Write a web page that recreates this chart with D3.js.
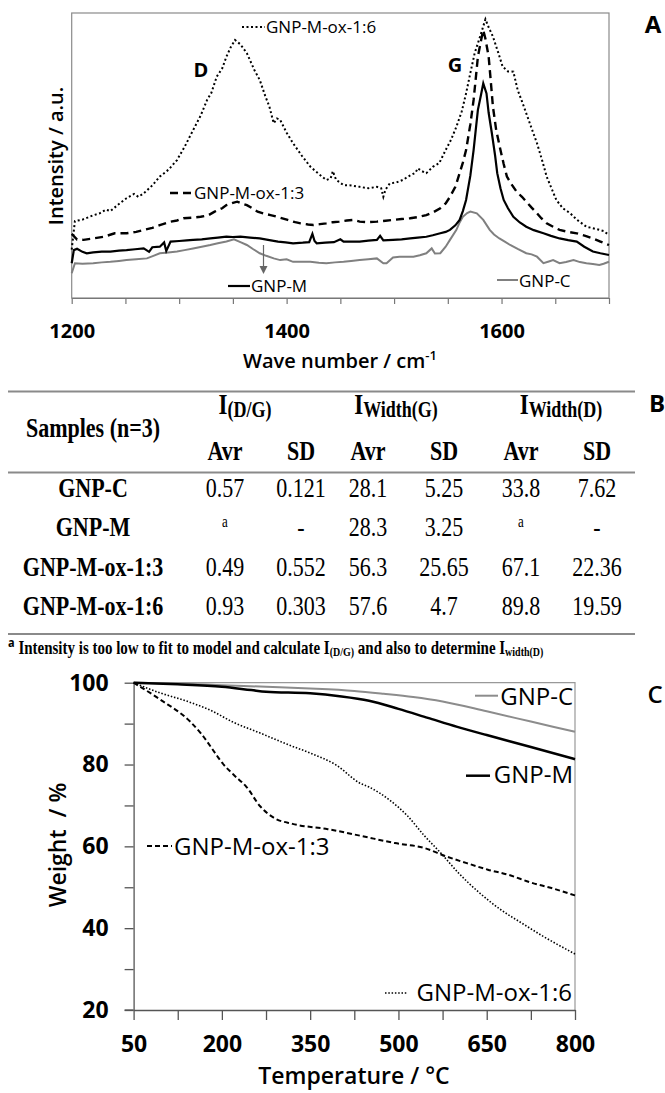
<!DOCTYPE html>
<html>
<head>
<meta charset="utf-8">
<script src="https://cdn.jsdelivr.net/npm/d3@7"></script>
<style>
  body { margin: 0; background: #fff; }
  svg text { font-family: "Open Sans", sans-serif; fill: #000; }
  svg text.serif { font-family: "Liberation Serif", "Times New Roman", serif; }
</style>
</head>
<body>
<div id="container"></div>
<script>
// ---- Panel A : Raman spectra, [wave number, intensity a.u.] ----
var ramanOx16 = [[1200,17],[1203,27],[1210,27.5],[1220,29],[1226,29.7],[1232,31],[1236,30.5],[1244,33],[1251,35],
  [1258,36.5],[1262,35.5],[1267,36.7],[1275,39.5],[1282,42.6],[1290,45],[1298,48.4],[1305,53],[1313,58.9],[1320,64],
  [1326,69.5],[1330,72],[1335,77.7],[1340,80.5],[1344,84.7],[1348,88],[1352,90.5],[1357,89],[1363,85.9],[1370,80],
  [1375,76.5],[1380,71],[1384,67.1],[1388,61.3],[1391,63],[1394,62.5],[1400,58],[1406,54.3],[1414,50],[1422,46.1],
  [1430,43.5],[1437,41.4],[1441,42],[1443,44.5],[1446,41.5],[1453,39.6],[1460,39.5],[1468,39],[1476,38.5],[1484,39],
  [1488,38.5],[1490,35.5],[1492,38],[1496,40.2],[1502,40.5],[1508,41.4],[1515,43],[1520,44],[1522,45.5],[1526,44.5],
  [1530,43.8],[1536,46],[1542,47.3],[1548,51.9],[1553,55.5],[1558,60.1],[1563,65.5],[1567,71.8],[1571,79],[1575,85.9],
  [1580,91.7],[1585,97.8],[1588,95],[1592,91.7],[1597,86],[1601,81.2],[1606,79.5],[1611,79.4],[1615,73],[1619,69],
  [1623,64.8],[1628,59.5],[1633,54.3],[1638,48],[1642,42.6],[1647,38],[1651,34.4],[1657,31.5],[1664,29.7],[1670,27.5],
  [1679,25],[1685,24.5],[1691,23.9],[1695,23.5],[1700,22.1]];
var ramanOx13 = [[1200,22.5],[1205,20.5],[1211,20.4],[1220,20.9],[1230,21.5],[1240,22.7],[1251,22.7],[1260,23.2],
  [1267,23.9],[1275,24.6],[1282,25.6],[1292,26.8],[1298,27.2],[1304,28],[1312,28.2],[1320,28.5],[1327,29],[1333,30.3],
  [1340,31.5],[1344,32.6],[1350,33.4],[1354,33.8],[1358,33.2],[1363,32.6],[1368,31.5],[1373,30.3],[1380,29.5],
  [1385,29.1],[1393,28.3],[1401,27.4],[1408,26.6],[1413,26.2],[1420,25.8],[1425,25.6],[1431,25.9],[1437,26.2],
  [1443,26.6],[1449,26.8],[1456,27.2],[1462,27.4],[1468,26.8],[1476,26.6],[1484,26.8],[1492,27.1],[1499,27.4],
  [1507,27.7],[1515,28],[1522,28.4],[1530,29.1],[1537,30.2],[1543,31.5],[1548,33.2],[1552,35.5],[1557,39],[1561,43.8],
  [1564,47.5],[1567,51.9],[1571,61],[1574,69.5],[1576,77],[1578,84.7],[1581,90.5],[1583,94],[1585,91],[1588,84.7],
  [1590,76],[1592,67.1],[1595,59],[1599,51.9],[1602,47],[1605,42.6],[1610,39.5],[1614,37.3],[1619,35.5],[1623,33.8],
  [1628,31.7],[1633,29.7],[1637,28],[1642,26.2],[1648,25],[1654,23.9],[1662,23.2],[1670,22.7],[1678,21.8],[1685,20.9],
  [1692,19.8],[1700,18.6]];
var ramanM = [[1200,12.2],[1202,16.8],[1205,17.3],[1210,16.2],[1214,15.7],[1220,16],[1228,16.3],[1236,16.3],[1244,16.6],
  [1251,16.8],[1259,17.1],[1267,17.4],[1272,16.2],[1275,17.8],[1282,18],[1286,19.5],[1288,16.5],[1292,19.8],[1300,20],
  [1307,20.2],[1313,20.4],[1321,20.6],[1329,20.9],[1336,21.2],[1344,21.5],[1350,21.4],[1357,21.5],[1366,21.2],
  [1375,20.9],[1384,20.3],[1392,19.8],[1399,19.5],[1406,19.2],[1415,19.4],[1421,19.6],[1424,22.5],[1426,20],[1428,19.2],
  [1436,19.4],[1444,19.6],[1450,20.6],[1453,19.8],[1460,19.8],[1468,19.8],[1476,20.1],[1484,20.4],[1487,21.8],
  [1490,20.2],[1499,20.4],[1507,20.6],[1515,20.9],[1522,21.2],[1530,21.5],[1536,22],[1543,22.7],[1548,23.2],
  [1552,23.9],[1557,25.5],[1561,27.4],[1564,30.5],[1567,34.4],[1571,43],[1574,51.9],[1576,59],[1578,66],[1581,71.5],
  [1583,75.3],[1586,71.8],[1588,65],[1591,57.8],[1594,50],[1596,43.8],[1599,38.5],[1602,34.4],[1606,31.5],[1611,28.5],
  [1617,26.5],[1623,25],[1630,23.8],[1639,22.7],[1646,21.8],[1654,20.9],[1662,20.3],[1670,19.8],[1677,18],[1685,16.3],
  [1692,15.7],[1700,15.1]];
var ramanC = [[1200,8.7],[1203,12.2],[1210,12],[1220,12.2],[1228,12.5],[1236,12.7],[1244,13],[1251,13.3],[1260,13.6],
  [1270,13.9],[1276,14.8],[1282,15.7],[1290,16],[1298,16.3],[1305,16.8],[1313,17.4],[1321,18],[1329,18.6],[1336,19.2],
  [1344,19.8],[1351,20.6],[1357,19.6],[1363,18.6],[1369,17.1],[1375,15.7],[1381,14.8],[1388,13.9],[1394,13.3],
  [1400,13.6],[1406,12.7],[1414,12.7],[1422,12.7],[1430,12.4],[1437,12.2],[1445,12.5],[1453,12.7],[1460,13],[1468,13.3],
  [1476,13.6],[1484,13.9],[1490,12.2],[1493,12.2],[1499,14.2],[1505,14.5],[1511,14.5],[1518,14.5],[1524,15],[1530,15.7],
  [1535,17.4],[1538,15.6],[1543,15.7],[1548,18],[1552,20.4],[1558,23.9],[1561,26.5],[1564,28.5],[1568,29.8],[1571,30.3],
  [1577,29.7],[1583,27.4],[1589,23.9],[1593,22.3],[1598,20.9],[1603,19.8],[1608,18.6],[1615,17.2],[1623,15.7],
  [1628,15.3],[1633,14.5],[1639,12.2],[1644,12.8],[1648,13.3],[1654,12.2],[1660,12.6],[1667,13.3],[1673,12.6],
  [1679,12.2],[1685,11.9],[1691,11.6],[1695,12],[1700,12.7]];
var ramanTicks = [1200,1250,1300,1350,1400,1450,1500,1550,1600,1650,1700];
var ramanLabels = [1200,1400,1600];

// ---- Panel B : table ----
var tableSamples = ["GNP-C","GNP-M","GNP-M-ox-1:3","GNP-M-ox-1:6"];
var idgAvr = ["0.57","a","0.49","0.93"];
var idgSd = ["0.121","-","0.552","0.303"];
var wgAvr = ["28.1","28.3","56.3","57.6"];
var wgSd = ["5.25","3.25","25.65","4.7"];
var wdAvr = ["33.8","a","67.1","89.8"];
var wdSd = ["7.62","-","22.36","19.59"];

// ---- Panel C : TGA, [temperature, weight %] ----
var tgaC = [[50,100],[125,99.8],[200,99.4],[275,99],[350,98.6],[425,98],[475,97.3],[525,96.5],[575,95.4],[650,93],
  [725,90.5],[800,88]];
var tgaM = [[50,100],[125,99.6],[200,99],[250,98.2],[275,97.8],[350,97.4],[400,96.7],[450,95.6],[500,93.6],[550,91.4],
  [600,89.2],[650,87.2],[725,84.3],[800,81.3]];
var tgaOx13 = [[50,100],[95,95.9],[146,90.5],[165,87.5],[190,82.5],[200,80.5],[220,77.5],[242,74.5],[265,69.8],
  [288,67],[320,65.5],[380,64.2],[435,62.6],[494,60.8],[544,59.6],[580,57.6],[616,55.9],[652,54.3],[688,53],[724,51.2],
  [760,49.8],[800,48]];
var tgaOx16 = [[50,100],[95,97.5],[140,95.5],[180,93.3],[220,90.3],[265,87.7],[310,85],[350,82.8],[395,79.8],
  [434,75.5],[450,74.5],[486,71.2],[515,67.5],[544,62.6],[573,58.2],[602,53.5],[638,48.6],[674,44.5],[710,41.2],
  [746,38],[800,33.7]];
var tgaXTicks = [50,125,200,275,350,425,500,575,650,725,800];
var tgaXLabels = [50,200,350,500,650,800];
var tgaYTicks = [20,30,40,50,60,70,80,90,100];
var tgaYLabels = [20,40,60,80,100];

var svg = d3.select("#container").append("svg")
  .attr("width", 665)
  .attr("height", 1093);

// small helper for plain labels
var label = function(x, y, str, size, weight, anchor) {
  return svg.append("text")
    .attr("x", x).attr("y", y)
    .attr("text-anchor", anchor || "start")
    .style("font-size", size + "px")
    .style("font-weight", weight || 400)
    .text(str);
};
var leader = function(x1, x2, y, color, width, dash) {
  svg.append("line")
    .attr("x1", x1).attr("x2", x2).attr("y1", y).attr("y2", y)
    .attr("stroke", color).attr("stroke-width", width)
    .attr("stroke-dasharray", dash || null);
};

/*
/ Panel A
*/
var xA = d3.scaleLinear().domain([1200, 1700]).range([71.7, 609]);
var yA = d3.scaleLinear().domain([0, 100]).range([298, 13]);

svg.append("rect")
  .attr("x", xA(1200)).attr("y", yA(100))
  .attr("width", xA(1700) - xA(1200)).attr("height", yA(0) - yA(100))
  .attr("fill", "none").attr("stroke", "#8a8a8a").attr("stroke-width", 1.2);

var axA = svg.append("g")
  .attr("transform", "translate(0," + yA(0) + ")")
  .call(d3.axisBottom(xA).tickValues(ramanTicks).tickSize(6).tickSizeOuter(0).tickPadding(20)
    .tickFormat(function(d) { return ramanLabels.indexOf(d) >= 0 ? d : ""; }));
axA.attr("font-family", null);
axA.selectAll("path, line").attr("stroke", "#777").attr("stroke-width", 1.2);
axA.selectAll("text").style("font-size", "20px").style("font-weight", 700);

var lineA = d3.line()
  .x(function(d) { return xA(d[0]); })
  .y(function(d) { return yA(d[1]); });

var ramanSeries = [
  { data: ramanC, color: "#808080", w: 2, dash: null },
  { data: ramanM, color: "#000", w: 2.2, dash: null },
  { data: ramanOx13, color: "#000", w: 2.4, dash: "8,5" },
  { data: ramanOx16, color: "#000", w: 2, dash: "2,2.5" }
];
ramanSeries.forEach(function(s) {
  svg.append("path").datum(s.data)
    .attr("d", lineA)
    .attr("fill", "none")
    .attr("stroke", s.color)
    .attr("stroke-width", s.w)
    .attr("stroke-dasharray", s.dash);
});

// annotations
leader(242, 265, 27, "#000", 2, "2,2.5");
label(266, 33, "GNP-M-ox-1:6", 17);
label(201, 77, "D", 20, 700, "middle");
label(455, 72, "G", 20, 700, "middle");
leader(170, 192, 193, "#000", 2.4, "8,5");
label(194, 199, "GNP-M-ox-1:3", 17);
leader(228, 250, 286, "#000", 2.2);
label(251, 292, "GNP-M", 17);
leader(497, 518, 280, "#808080", 2);
label(519, 287, "GNP-C", 17);
svg.append("line")
  .attr("x1", 263.5).attr("x2", 263.5).attr("y1", 245).attr("y2", 268)
  .attr("stroke", "#666").attr("stroke-width", 1.2);
svg.append("path")
  .attr("d", "M259.5,266 L267.5,266 L263.5,274 Z")
  .attr("fill", "#666");

var tA = label(340, 368, "Wave number / cm", 20, 600, "middle");
tA.append("tspan").attr("dy", -8).style("font-size", "13px").text("-1");
svg.append("text")
  .attr("transform", "translate(63,156) rotate(-90)")
  .attr("text-anchor", "middle")
  .style("font-size", "20px").style("font-weight", 600)
  .text("Intensity / a.u.");
label(653, 33, "A", 24, 700, "middle");

/*
/ Panel B : table (serif, slightly tall letters like the source)
*/
var ky = 1.28;
var tText = function(x, y, size, weight, str) {
  return svg.append("text").attr("class", "serif")
    .attr("transform", "translate(" + x + "," + y + ") scale(1," + ky + ")")
    .attr("text-anchor", "middle")
    .style("font-size", size + "px")
    .style("font-weight", weight)
    .text(str);
};
var rule = function(y) {
  svg.append("line").attr("x1", 8).attr("x2", 635).attr("y1", y).attr("y2", y)
    .attr("stroke", "#8a8a8a").attr("stroke-width", 2);
};
rule(391.5);
rule(472.5);
rule(634);

tText(93, 437, 22, 700, "Samples (n=3)");
var groups = [[245, "(D/G)"], [396, "Width(G)"], [561, "Width(D)"]];
groups.forEach(function(g) {
  var t = tText(g[0], 414, 23, 700, "I");
  t.append("tspan").attr("dy", 2).style("font-size", "18px").text(g[1]);
});
var cols = [225, 301, 368, 444, 521, 597];
cols.forEach(function(x, i) {
  tText(x, 460, 22, 700, i % 2 === 0 ? "Avr" : "SD");
});

var rowY = [497, 536, 576, 615];
var tableCols = [idgAvr, idgSd, wgAvr, wgSd, wdAvr, wdSd];
tableSamples.forEach(function(name, r) {
  tText(93, rowY[r], 22, 700, name);
  tableCols.forEach(function(col, c) {
    var v = col[r];
    if (v === "a") {
      tText(cols[c], rowY[r] - 9, 13, 400, v);
    } else {
      tText(cols[c], rowY[r], 22, 400, v);
    }
  });
});

var fn = svg.append("text").attr("class", "serif")
  .attr("transform", "translate(8,654) scale(1,1.2)")
  .style("font-size", "15px").style("font-weight", 700);
fn.append("tspan").attr("dy", -6).style("font-size", "11px").style("font-family", "'Open Sans', sans-serif").text("a");
fn.append("tspan").attr("dy", 6).text(" Intensity is too low to fit to model and calculate I");
fn.append("tspan").attr("dy", 2).style("font-size", "10px").text("(D/G)");
fn.append("tspan").attr("dy", -2).text(" and also to determine I");
fn.append("tspan").attr("dy", 2).style("font-size", "10px").text("width(D)");

label(657, 412, "B", 24, 700, "middle");

/*
/ Panel C
*/
var xC = d3.scaleLinear().domain([50, 800]).range([133.6, 575]);
var yC = d3.scaleLinear().domain([20, 100]).range([1010, 682.7]);

// frame (top and right)
svg.append("path")
  .attr("d", "M" + xC(50) + "," + yC(100) + " H" + xC(800) + " V" + yC(20))
  .attr("fill", "none").attr("stroke", "#999").attr("stroke-width", 1.2);

var axCx = svg.append("g")
  .attr("transform", "translate(0," + yC(20) + ")")
  .call(d3.axisBottom(xC).tickValues(tgaXTicks).tickSize(10).tickSizeOuter(0).tickPadding(16)
    .tickFormat(function(d) { return tgaXLabels.indexOf(d) >= 0 ? d : ""; }));
var axCy = svg.append("g")
  .attr("transform", "translate(" + xC(50) + ",0)")
  .call(d3.axisLeft(yC).tickValues(tgaYTicks).tickSize(9).tickSizeOuter(0).tickPadding(16)
    .tickFormat(function(d) { return tgaYLabels.indexOf(d) >= 0 ? d : ""; }));
[axCx, axCy].forEach(function(ax) {
  ax.attr("font-family", null);
  ax.selectAll("path, line").attr("stroke", "#555").attr("stroke-width", 1.3);
  ax.selectAll("text").style("font-size", "23px").style("font-weight", 700);
});
// bottom axis reaches out to the "20" tick
svg.append("line").attr("x1", xC(50) - 9).attr("x2", xC(50)).attr("y1", yC(20)).attr("y2", yC(20))
  .attr("stroke", "#555").attr("stroke-width", 1.3);

var lineC = d3.line()
  .curve(d3.curveMonotoneX)
  .x(function(d) { return xC(d[0]); })
  .y(function(d) { return yC(d[1]); });

var tgaSeries = [
  { data: tgaC, color: "#8c8c8c", w: 2, dash: null },
  { data: tgaM, color: "#000", w: 2.5, dash: null },
  { data: tgaOx13, color: "#000", w: 2, dash: "5,3" },
  { data: tgaOx16, color: "#000", w: 1.6, dash: "1.5,1.8" }
];
tgaSeries.forEach(function(s) {
  svg.append("path").datum(s.data)
    .attr("d", lineC)
    .attr("fill", "none")
    .attr("stroke", s.color)
    .attr("stroke-width", s.w)
    .attr("stroke-dasharray", s.dash);
});

leader(475, 498, 695.7, "#8c8c8c", 2);
label(573, 705, "GNP-C", 24, 400, "end");
leader(466, 490, 775.7, "#000", 2.5);
label(573, 783, "GNP-M", 24, 400, "end");
leader(147, 172, 846, "#000", 2, "5,3");
label(174, 855, "GNP-M-ox-1:3", 24);
leader(385, 408, 993, "#000", 1.6, "1.5,1.8");
label(572, 1001, "GNP-M-ox-1:6", 24, 400, "end");

label(354, 1084, "Temperature / °C", 23, 600, "middle");
svg.append("text")
  .attr("transform", "translate(66,845) rotate(-90)")
  .attr("text-anchor", "middle")
  .style("font-size", "23px").style("font-weight", 600)
  .style("white-space", "pre")
  .text("Weight  / %");
label(655, 703, "C", 24, 600, "middle");
</script>
</body>
</html>
